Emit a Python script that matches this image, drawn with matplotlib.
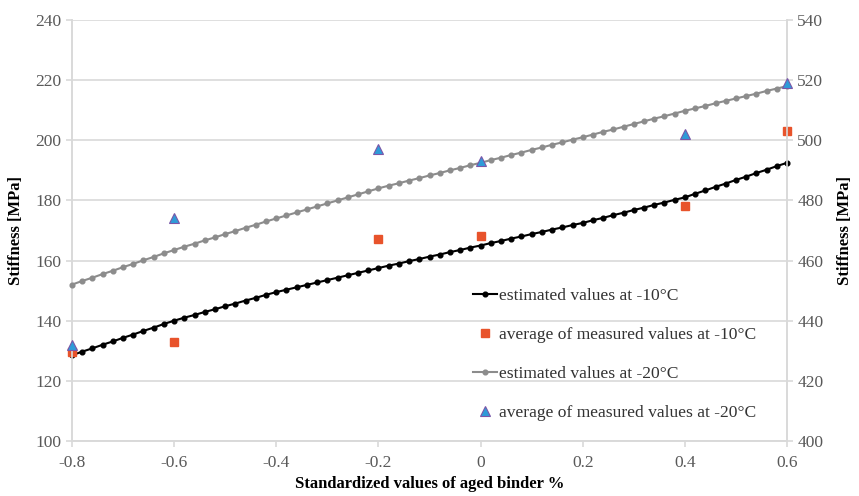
import numpy as np
import matplotlib
matplotlib.use("Agg")
import matplotlib.pyplot as plt

plt.rcParams['font.family'] = ['Liberation Serif', 'DejaVu Serif']

# estimated curves, read every 0.02 along x
x_est = np.round(np.arange(-0.8, 0.601, 0.02), 2)
est_10 = [128.5, 129.7, 130.8, 132.0, 133.1, 134.3, 135.4, 136.6, 137.7, 138.9, 140.0,
          141.0, 141.9, 142.9, 143.8, 144.8, 145.7, 146.7, 147.6, 148.6, 149.5,
          150.3, 151.1, 151.9, 152.7, 153.5, 154.3, 155.1, 155.9, 156.7, 157.5,
          158.3, 159.0, 159.8, 160.5, 161.3, 162.0, 162.8, 163.5, 164.3, 165.0,
          165.8, 166.5, 167.3, 168.0, 168.8, 169.5, 170.3, 171.0, 171.8, 172.5,
          173.4, 174.2, 175.1, 175.9, 176.8, 177.6, 178.5, 179.3, 180.2, 181.0,
          182.2, 183.3, 184.5, 185.6, 186.8, 187.9, 189.1, 190.2, 191.4, 192.5]
est_20 = [452.0, 453.2, 454.3, 455.5, 456.6, 457.8, 458.9, 460.1, 461.2, 462.4, 463.5,
          464.6, 465.6, 466.7, 467.7, 468.8, 469.8, 470.9, 471.9, 473.0, 474.0,
          475.0, 476.0, 477.0, 478.0, 479.0, 480.0, 481.0, 482.0, 483.0, 484.0,
          484.9, 485.7, 486.6, 487.4, 488.3, 489.1, 490.0, 490.8, 491.7, 492.5,
          493.4, 494.2, 495.1, 495.9, 496.8, 497.6, 498.5, 499.3, 500.2, 501.0,
          501.9, 502.8, 503.6, 504.5, 505.4, 506.3, 507.2, 508.0, 508.9, 509.8,
          510.6, 511.4, 512.3, 513.1, 513.9, 514.7, 515.5, 516.4, 517.2, 518.0]

# measured averages
x_meas = [-0.8, -0.6, -0.2, 0.0, 0.4, 0.6]
meas_10 = [129.5, 133, 167, 168, 178, 203]
meas_20 = [432, 474, 497, 493, 502, 519]

labels = ["estimated values at -10°C", "average of measured values at -10°C",
          "estimated values at -20°C", "average of measured values at -20°C"]

grid_c = '#d9d9d9'
tick_c = '#595959'

fig = plt.figure(figsize=(8.59, 4.96), dpi=100)
ax = fig.add_axes([0.0838, 0.111, 0.8324, 0.8487])
ax2 = ax.twinx()

h1, = ax.plot(x_est, est_10, '-o', color='black', lw=1.5, ms=3.4, zorder=3, clip_on=False)
h2, = ax.plot(x_meas, meas_10, 's', color='#e8532b', ms=6, ls='none', zorder=4, clip_on=False)
h3, = ax2.plot(x_est, est_20, '-o', color='#8c8c8c', lw=1.5, ms=3.4, zorder=3, clip_on=False)
h4, = ax2.plot(x_meas, meas_20, '^', mfc='#2e9bd8', mec='#7b56a8', mew=0.8, ms=6.5,
               ls='none', zorder=4, clip_on=False)

ax.set_xlim(-0.8, 0.6)
ax.set_ylim(100, 240)
ax2.set_ylim(400, 540)
ax.set_xticks(np.round(np.arange(-0.8, 0.61, 0.2), 1))
ax.set_xticklabels(['-0.8', '-0.6', '-0.4', '-0.2', '0', '0.2', '0.4', '0.6'])
ax.set_yticks(range(100, 241, 20))
ax2.set_yticks(range(400, 541, 20))
ax.grid(axis='y', color=grid_c, lw=1.2)
ax.set_axisbelow(True)

for a in (ax, ax2):
    for s in a.spines.values():
        s.set_color(grid_c)
        s.set_linewidth(1.2)
    a.spines['top'].set_visible(False)
    a.tick_params(colors=grid_c, labelcolor=tick_c, labelsize=12.5, length=4, width=1.2)
ax.tick_params(axis='x', pad=6)

ax.set_ylabel('Stiffness [MPa]', fontsize=12, fontweight='bold', labelpad=8)
ax2.set_ylabel('Stiffness [MPa]', fontsize=12, fontweight='bold', rotation=90, labelpad=10)
ax.set_xlabel('Standardized values of aged binder %', fontsize=12, fontweight='bold', labelpad=4)

ax2.legend([h1, h2, h3, h4], labels, loc='upper left', bbox_to_anchor=(0.540, 0.437),
           bbox_transform=fig.transFigure, frameon=False, fontsize=12.6,
           handlelength=1.4, handletextpad=0.1, labelspacing=1.3, borderpad=0,
           labelcolor='#333333')

fig.savefig('out.png', dpi=100)
